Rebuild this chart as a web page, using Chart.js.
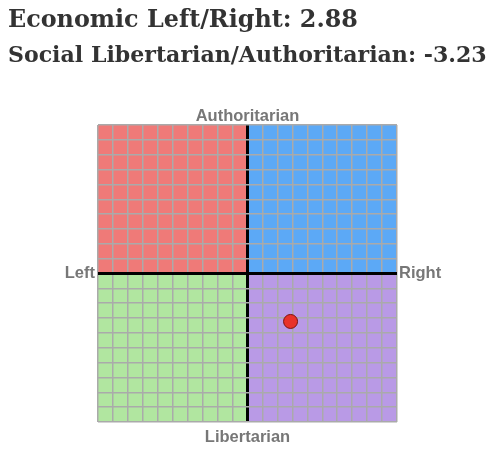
<!DOCTYPE html>
<html><head><meta charset="utf-8">
<script src="https://cdn.jsdelivr.net/npm/chart.js@4"></script>
<style>
body{margin:0;background:#fff;}
#wrap{position:relative;width:500px;height:457px;}
.t{position:absolute;left:8px;font-family:"DejaVu Serif",serif;font-weight:bold;font-size:22px;color:#333;white-space:nowrap;line-height:1;}
canvas{position:absolute;left:0;top:0;}
</style></head><body>
<div id="wrap">
<canvas id="c" width="500" height="457"></canvas>
<div class="t" id="t1" data-w="350" style="top:8px">Economic Left/Right: 2.88</div>
<div class="t" id="t2" data-w="479" style="top:43px">Social Libertarian/Authoritarian: -3.23</div>
</div>
<script>
document.querySelectorAll('.t').forEach(el=>{
  const w=el.getBoundingClientRect().width;
  el.style.fontSize=(22*(+el.dataset.w)/w).toFixed(2)+'px';
});
const economic = [2.88];
const social = [-3.23];
const axisLabels = ["Authoritarian","Libertarian","Left","Right"];
const quadColors = ["#ef7a78","#5ca9f6","#b1e6a0","#b99ae6"]; // TL, TR, BL, BR

const bgPlugin = {
  id:'bg',
  beforeDraw(chart){
    const {ctx, scales:{x,y}} = chart;
    const x0=x.getPixelForValue(-10), xm=x.getPixelForValue(0), x1=x.getPixelForValue(10);
    const y0=y.getPixelForValue(10), ym=y.getPixelForValue(0), y1=y.getPixelForValue(-10);
    ctx.save();
    ctx.fillStyle=quadColors[0]; ctx.fillRect(x0,y0,xm-x0,ym-y0);
    ctx.fillStyle=quadColors[1]; ctx.fillRect(xm,y0,x1-xm,ym-y0);
    ctx.fillStyle=quadColors[2]; ctx.fillRect(x0,ym,xm-x0,y1-ym);
    ctx.fillStyle=quadColors[3]; ctx.fillRect(xm,ym,x1-xm,y1-ym);
    ctx.restore();
  },
  afterDraw(chart){
    const {ctx, scales:{x,y}} = chart;
    const x0=x.getPixelForValue(-10), xm=x.getPixelForValue(0), x1=x.getPixelForValue(10);
    const y0=y.getPixelForValue(10), ym=y.getPixelForValue(0), y1=y.getPixelForValue(-10);
    ctx.save();
    ctx.fillStyle="#777"; ctx.font="bold 16.5px 'Liberation Sans', Arial, sans-serif";
    ctx.textAlign="center"; ctx.textBaseline="alphabetic";
    ctx.fillText(axisLabels[0], xm, y0-4);
    ctx.fillText(axisLabels[1], xm, y1+20);
    ctx.textBaseline="middle"; ctx.textAlign="right"; ctx.fillText(axisLabels[2], x0-3, ym);
    ctx.textAlign="left"; ctx.fillText(axisLabels[3], x1+2, ym);
    ctx.restore();
  }
};

new Chart(document.getElementById('c'),{
  type:'scatter',
  data:{datasets:[{data:economic.map((v,i)=>({x:v,y:social[i]})),
    backgroundColor:'#e8322a',borderColor:'#7a1410',borderWidth:1,pointRadius:7,pointHoverRadius:7}]},
  options:{
    responsive:false,animation:false,
    layout:{padding:{left:98,right:103,top:125,bottom:35}},
    plugins:{legend:{display:false},tooltip:{enabled:false}},
    scales:{
      x:{min:-10,max:10,ticks:{display:false,stepSize:1},border:{display:false},
         grid:{drawTicks:false,color:c=>c.tick.value===0?'#000':'#aaa',lineWidth:c=>c.tick.value===0?3:1.5}},
      y:{min:-10,max:10,ticks:{display:false,stepSize:1},border:{display:false},
         grid:{drawTicks:false,color:c=>c.tick.value===0?'#000':'#aaa',lineWidth:c=>c.tick.value===0?3:1.5}}
    }
  },
  plugins:[bgPlugin]
});
</script>
</body></html>
